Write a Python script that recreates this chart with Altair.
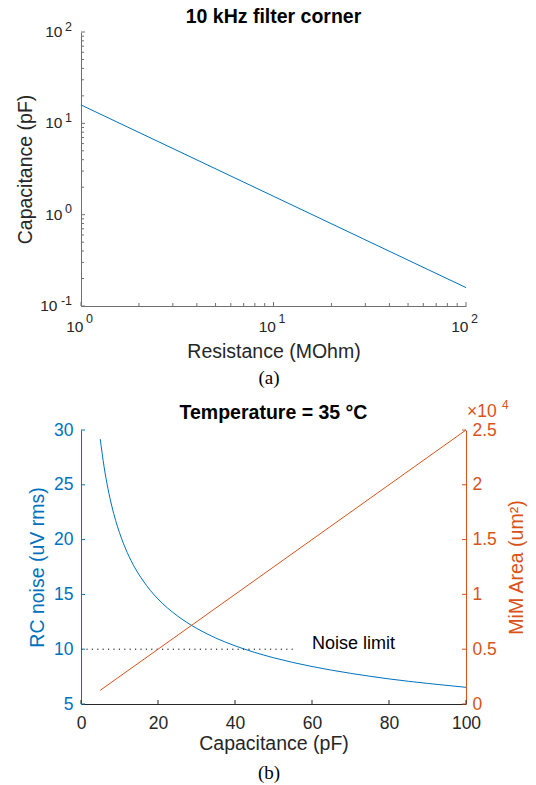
import altair as alt
import pandas as pd

FONT = "Liberation Sans"
SERIF = "Liberation Serif"
BLUE = "#0072BD"
ORANGE = "#D95319"
DARK = "#262626"
GRAYAX = "#707070"

# ---------- panel (a): capacitance for a 10 kHz RC corner ----------
resistance_mohm = [1, 10, 100]
capacitance_pf = [15.9, 1.59, 0.159]

y_major = [0.1, 1, 10, 100]
y_major_exp = ["-1", "0", "1", "2"]
x_major = [1, 10, 100]
x_major_exp = ["0", "1", "2"]
y_minor = [0.2, 0.3, 0.4, 0.5, 0.6, 0.7, 0.8, 0.9,
           2, 3, 4, 5, 6, 7, 8, 9,
           20, 30, 40, 50, 60, 70, 80, 90]
x_minor = [2, 3, 4, 5, 6, 7, 8, 9, 20, 30, 40, 50, 60, 70, 80, 90]

# ---------- panel (b): kT/C noise and MiM area vs capacitance ----------
cap_pf = [5, 6, 7, 8, 9, 10, 12, 14, 16, 18, 20, 25, 30, 35, 40, 45,
          50, 60, 70, 80, 90, 100]
noise_uv = [29.17, 26.63, 24.65, 23.06, 21.74, 20.63, 18.83, 17.43, 16.31,
            15.37, 14.58, 13.05, 11.91, 11.02, 10.31, 9.72, 9.22, 8.42,
            7.80, 7.29, 6.88, 6.52]
area_cap_pf = [5, 100]
area_um2 = [1250, 25000]
limit_cap_pf = [0, 55]
limit_uv = [10, 10]
limit_label = "Noise limit"
limit_label_at = [60, 10.5]

cap_ticks = [0, 20, 40, 60, 80, 100]
noise_ticks = [5, 10, 15, 20, 25, 30]
area_ticks = [0, 5000, 10000, 15000, 20000, 25000]

W, H = 385, 274

# ================= panel (a) =================
xs_a = alt.Scale(type="log", domain=[1, 100], nice=False)
ys_a = alt.Scale(type="log", domain=[0.1, 100], nice=False)

# axes carry only the line and the title; ticks and labels are drawn as marks
ax_x_a = alt.Axis(
    title="Resistance (MOhm)", labels=False, ticks=False, grid=False,
    domainColor=GRAYAX, domainWidth=1,
    titleX=W / 2, titleY=45, titleBaseline="middle", titleAlign="center",
    titleFont=FONT, titleFontSize=19.5, titleFontWeight="normal",
    titleColor=DARK)
ax_y_a = alt.Axis(
    title="Capacitance (pF)", labels=False, ticks=False, grid=False,
    domainColor=GRAYAX, domainWidth=1,
    titleX=-56, titleY=H / 2, titleBaseline="middle", titleAlign="center",
    titleAngle=270,
    titleFont=FONT, titleFontSize=19.5, titleFontWeight="normal",
    titleColor=DARK)


def xa(field):
    return alt.X(field, scale=xs_a, axis=ax_x_a)


def ya(field):
    return alt.Y(field, scale=ys_a, axis=ax_y_a)


df_a = pd.DataFrame({"R": resistance_mohm, "C": capacitance_pf})
curve_a = alt.Chart(df_a).mark_line(color=BLUE, strokeWidth=1).encode(
    x=xa("R:Q"), y=ya("C:Q"))

ymaj_df = pd.DataFrame({"v": y_major, "e": y_major_exp, "m": ["10"] * 4})
xmaj_df = pd.DataFrame({"v": x_major, "e": x_major_exp, "m": ["10"] * 3})

ytick_major = alt.Chart(ymaj_df).mark_rule(color=GRAYAX, strokeWidth=1).encode(
    y=ya("v:Q"), x=alt.value(0), x2=alt.value(4))
ytick_minor = alt.Chart(pd.DataFrame({"v": y_minor})).mark_rule(
    color=GRAYAX, strokeWidth=1).encode(
    y=ya("v:Q"), x=alt.value(0), x2=alt.value(3))
xtick_major = alt.Chart(xmaj_df).mark_rule(color=GRAYAX, strokeWidth=1).encode(
    x=xa("v:Q"), y=alt.value(H), y2=alt.value(H - 4))
xtick_minor = alt.Chart(pd.DataFrame({"v": x_minor})).mark_rule(
    color=GRAYAX, strokeWidth=1).encode(
    x=xa("v:Q"), y=alt.value(H), y2=alt.value(H - 3))

# power-of-ten labels: mantissa "10" plus a raised exponent
ylab_exp = alt.Chart(ymaj_df).mark_text(
    font=FONT, fontSize=12.5, align="right", baseline="middle", dy=-5.5,
    color=DARK).encode(y=ya("v:Q"), x=alt.value(-9), text="e:N")
ylab_m1 = alt.Chart(ymaj_df).transform_filter("length(datum.e) == 1").mark_text(
    font=FONT, fontSize=15.5, align="right", baseline="middle", color=DARK).encode(
    y=ya("v:Q"), x=alt.value(-18.5), text="m:N")
ylab_m2 = alt.Chart(ymaj_df).transform_filter("length(datum.e) == 2").mark_text(
    font=FONT, fontSize=15.5, align="right", baseline="middle", color=DARK).encode(
    y=ya("v:Q"), x=alt.value(-23.5), text="m:N")
xlab_m = alt.Chart(xmaj_df).mark_text(
    font=FONT, fontSize=15.5, align="right", baseline="middle", dx=2.5,
    color=DARK).encode(x=xa("v:Q"), y=alt.value(H + 21), text="m:N")
xlab_e = alt.Chart(xmaj_df).mark_text(
    font=FONT, fontSize=12.5, align="left", baseline="middle", dx=5,
    color=DARK).encode(x=xa("v:Q"), y=alt.value(H + 13), text="e:N")

title_a = alt.Chart(pd.DataFrame({"t": ["10 kHz filter corner"]})).mark_text(
    font=FONT, fontSize=19.5, fontWeight="bold", align="center",
    baseline="middle", color="#000000").encode(
    x=alt.value(W / 2), y=alt.value(-15), text="t:N")
caption_a = alt.Chart(pd.DataFrame({"t": ["(a)"]})).mark_text(
    font=SERIF, fontSize=19, align="center", baseline="middle",
    color="#000000").encode(x=alt.value(188), y=alt.value(H + 72), text="t:N")

panel_a = alt.layer(
    curve_a, ytick_major, ytick_minor, xtick_major, xtick_minor,
    ylab_exp, ylab_m1, ylab_m2, xlab_m, xlab_e, title_a, caption_a,
).properties(width=W, height=H)

# ================= panel (b) =================
xs_b = alt.Scale(domain=[0, 100], nice=False)
yn_b = alt.Scale(domain=[5, 30], nice=False, zero=False)
ya_b = alt.Scale(domain=[0, 25000], nice=False, zero=False)

ax_x_b = alt.Axis(
    values=cap_ticks, ticks=False, grid=False, labelFlush=False,
    labelOverlap=False, domainColor=DARK, domainWidth=1,
    labelFont=FONT, labelFontSize=17.5, labelColor=DARK, labelPadding=10,
    title="Capacitance (pF)", titleX=W / 2, titleY=39.5,
    titleBaseline="middle", titleAlign="center",
    titleFont=FONT, titleFontSize=19.5, titleFontWeight="normal",
    titleColor=DARK)
ax_noise = alt.Axis(
    orient="left", values=noise_ticks, ticks=False, grid=False,
    labelFlush=False, labelOverlap=False, domainColor=BLUE, domainWidth=1,
    labelFont=FONT, labelFontSize=17.5, labelColor=BLUE, labelPadding=8,
    title="RC noise (uV rms)", titleX=-44, titleY=H / 2,
    titleBaseline="middle", titleAlign="center", titleAngle=270,
    titleFont=FONT, titleFontSize=19.5, titleFontWeight="normal",
    titleColor=BLUE)
ax_area = alt.Axis(
    orient="right", values=area_ticks, ticks=False, grid=False,
    labelFlush=False, labelOverlap=False,
    labelExpr="'' + datum.value / 10000",
    domainColor=ORANGE, domainWidth=1,
    labelFont=FONT, labelFontSize=17.5, labelColor=ORANGE, labelPadding=6,
    title="MiM Area (um²)", titleX=50, titleY=H / 2,
    titleBaseline="middle", titleAlign="center", titleAngle=270,
    titleFont=FONT, titleFontSize=19.5, titleFontWeight="normal",
    titleColor=ORANGE)


def xb(field):
    return alt.X(field, scale=xs_b, axis=ax_x_b)


def yn(field):
    return alt.Y(field, scale=yn_b, axis=ax_noise)


def yar(field):
    return alt.Y(field, scale=ya_b, axis=ax_area)


df_noise = pd.DataFrame({"C": cap_pf, "N": noise_uv})
noise_curve = alt.Chart(df_noise).mark_line(
    color=BLUE, strokeWidth=1, interpolate="monotone").encode(
    x=xb("C:Q"), y=yn("N:Q"))

limit_line = alt.Chart(pd.DataFrame({"C": limit_cap_pf, "N": limit_uv})).mark_line(
    color="#000000", strokeWidth=1, strokeDash=[1.2, 4.2]).encode(
    x=xb("C:Q"), y=yn("N:Q"))
limit_text = alt.Chart(pd.DataFrame({
    "C": [limit_label_at[0]], "N": [limit_label_at[1]], "t": [limit_label]})
).mark_text(font=FONT, fontSize=18, align="left", baseline="middle",
            color="#000000").encode(x=xb("C:Q"), y=yn("N:Q"), text="t:N")

xtick_b = alt.Chart(pd.DataFrame({"v": cap_ticks})).mark_rule(
    color=DARK, strokeWidth=1).encode(
    x=xb("v:Q"), y=alt.value(H), y2=alt.value(H - 4))
ntick_b = alt.Chart(pd.DataFrame({"v": noise_ticks})).mark_rule(
    color=BLUE, strokeWidth=1).encode(
    y=yn("v:Q"), x=alt.value(0), x2=alt.value(4))

title_b = alt.Chart(pd.DataFrame({"t": ["Temperature = 35 °C"]})).mark_text(
    font=FONT, fontSize=19.5, fontWeight="bold", align="center",
    baseline="middle", color="#000000").encode(
    x=alt.value(W / 2), y=alt.value(-17), text="t:N")
caption_b = alt.Chart(pd.DataFrame({"t": ["(b)"]})).mark_text(
    font=SERIF, fontSize=19, align="center", baseline="middle",
    color="#000000").encode(x=alt.value(188), y=alt.value(H + 69), text="t:N")

left_group = alt.layer(noise_curve, limit_line, limit_text, xtick_b, ntick_b,
                       title_b, caption_b)

df_area = pd.DataFrame({"C": area_cap_pf, "A": area_um2})
area_line = alt.Chart(df_area).mark_line(color=ORANGE, strokeWidth=1).encode(
    x=xb("C:Q"), y=yar("A:Q"))
atick_b = alt.Chart(pd.DataFrame({"v": area_ticks})).mark_rule(
    color=ORANGE, strokeWidth=1).encode(
    y=yar("v:Q"), x=alt.value(W - 4), x2=alt.value(W))
mult_text = alt.Chart(pd.DataFrame({"t": ["×10"]})).mark_text(
    font=FONT, fontSize=17.5, align="left", baseline="middle",
    color=ORANGE).encode(x=alt.value(W + 1), y=alt.value(-18.5), text="t:N")
mult_exp = alt.Chart(pd.DataFrame({"t": ["4"]})).mark_text(
    font=FONT, fontSize=12, align="left", baseline="middle",
    color=ORANGE).encode(x=alt.value(W + 36), y=alt.value(-25.5), text="t:N")

right_group = alt.layer(area_line, atick_b, mult_text, mult_exp)

panel_b = alt.layer(left_group, right_group).resolve_scale(
    y="independent").properties(width=W, height=H)

chart = alt.vconcat(panel_a, panel_b, spacing=124, bounds="flush").properties(
    padding={"left": 15, "top": 7, "right": 5, "bottom": 5},
    background="white",
).configure_view(stroke=None)

chart.save("out.html", embed_options={"renderer": "svg", "actions": False})
